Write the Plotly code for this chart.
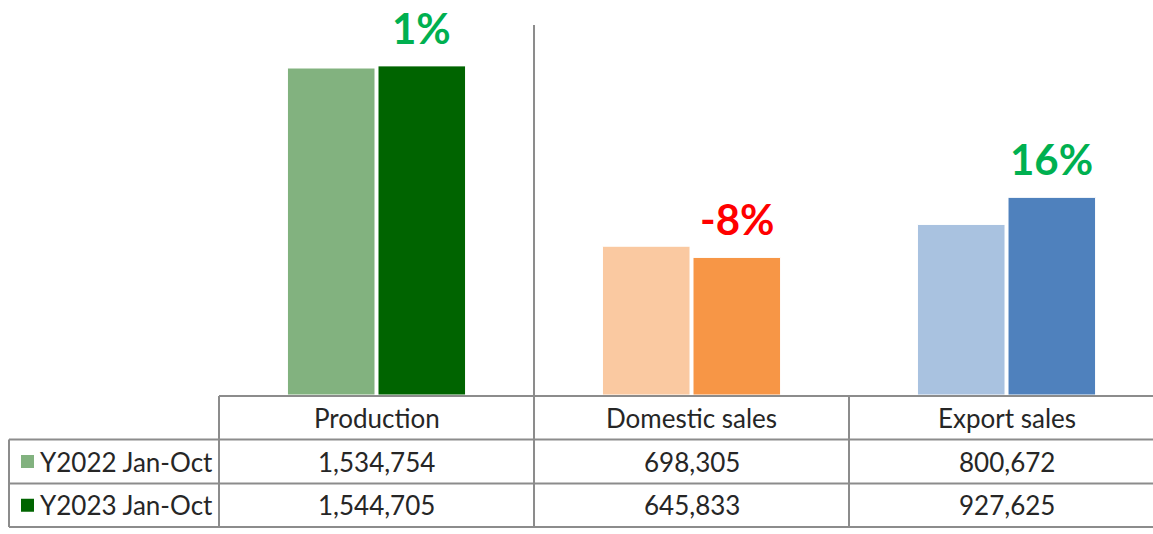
import plotly.graph_objects as go

# Data
categories = ["Production", "Domestic sales", "Export sales"]
series_names = ["Y2022 Jan-Oct", "Y2023 Jan-Oct"]
values_2022 = [1534754, 698305, 800672]
values_2023 = [1544705, 645833, 927625]
change_labels = ["1%", "-8%", "16%"]

# Styling
colors_2022 = ["#82B27F", "#FAC9A1", "#A9C2E0"]
colors_2023 = ["#006400", "#F79646", "#4F81BD"]
change_colors = ["#00B050", "#FF0000", "#00B050"]
legend_colors = ["#82B27F", "#006400"]
grid_color = "#8C8C8C"
font_family = "Lato"

W, H = 1153, 534
plot_left, plot_bottom = 219, 395  # pixel positions of the plot area
plot_w = W - plot_left
plot_h = plot_bottom
bargap = 0.425


def px_x(px):
    return (px - plot_left) / plot_w


def px_y(py):
    return (plot_bottom - py) / plot_h


xs = list(range(len(categories)))
fig = go.Figure()
fig.add_trace(go.Bar(x=xs, y=values_2022, name=series_names[0],
                     marker=dict(color=colors_2022, line=dict(color="white", width=1))))
fig.add_trace(go.Bar(x=xs, y=values_2023, name=series_names[1],
                     marker=dict(color=colors_2023, line=dict(color="white", width=1))))

# y scale: 1,534,754 reaches 327 px above the baseline
y_max = plot_h / 327 * values_2022[0]

shapes = []
line = dict(color=grid_color, width=2)
# table rows (pixel positions)
row_top, row1, row2, row3 = 396, 439.5, 483.5, 527
table_left = 9
shapes.append(dict(type="line", xref="paper", yref="paper",
                   x0=0, x1=1, y0=px_y(row_top), y1=px_y(row_top), line=line))
for ry in (row1, row2, row3):
    shapes.append(dict(type="line", xref="paper", yref="paper",
                       x0=px_x(table_left), x1=1, y0=px_y(ry), y1=px_y(ry), line=line))
# vertical table lines
shapes.append(dict(type="line", xref="paper", yref="paper",
                   x0=px_x(table_left), x1=px_x(table_left), y0=px_y(row1), y1=px_y(row3), line=line))
shapes.append(dict(type="line", xref="paper", yref="paper",
                   x0=0, x1=0, y0=px_y(row_top), y1=px_y(row3), line=line))
# separator between production and sales runs up through the plot
shapes.append(dict(type="line", xref="x", yref="paper",
                   x0=0.5, x1=0.5, y0=px_y(25), y1=px_y(row3), line=line))
shapes.append(dict(type="line", xref="x", yref="paper",
                   x0=1.5, x1=1.5, y0=px_y(row_top), y1=px_y(row3), line=line))
# legend keys
for i, (ry_a, ry_b) in enumerate([(row1, row2), (row2, row3)]):
    cy = (ry_a + ry_b) / 2
    shapes.append(dict(type="rect", xref="paper", yref="paper",
                       x0=px_x(21), x1=px_x(34), y0=px_y(cy - 6.5), y1=px_y(cy + 6.5),
                       fillcolor=legend_colors[i], line=dict(width=0)))

annotations = []
text_font = dict(family=font_family, size=26, color="#262626")
for i, cat in enumerate(categories):
    annotations.append(dict(x=i, y=px_y((row_top + row1) / 2), xref="x", yref="paper",
                            text=cat, showarrow=False, font=text_font,
                            xanchor="center", yanchor="middle"))
    annotations.append(dict(x=i, y=px_y((row1 + row2) / 2), xref="x", yref="paper",
                            text=f"{values_2022[i]:,}", showarrow=False, font=text_font,
                            xanchor="center", yanchor="middle"))
    annotations.append(dict(x=i, y=px_y((row2 + row3) / 2), xref="x", yref="paper",
                            text=f"{values_2023[i]:,}", showarrow=False, font=text_font,
                            xanchor="center", yanchor="middle"))
    # change label above the 2023 bar
    annotations.append(dict(x=i + (1 - bargap) / 4, y=values_2023[i], xref="x", yref="y",
                            text=f"<b>{change_labels[i]}</b>", showarrow=False,
                            font=dict(family=font_family, size=42, color=change_colors[i]),
                            xanchor="center", yanchor="middle", yshift=38))
for i, name in enumerate(series_names):
    cy = [(row1 + row2) / 2, (row2 + row3) / 2][i]
    annotations.append(dict(x=px_x(38), y=px_y(cy), xref="paper", yref="paper",
                            text=name, showarrow=False, font=text_font,
                            xanchor="left", yanchor="middle"))

fig.update_layout(
    width=W, height=H,
    margin=dict(l=plot_left, r=0, t=0, b=H - plot_bottom, pad=0),
    paper_bgcolor="white", plot_bgcolor="white",
    barmode="group", bargap=bargap, bargroupgap=0.033,
    showlegend=False,
    xaxis=dict(range=[-0.5, 2.465], showticklabels=False,
               showgrid=False, zeroline=False, showline=False, fixedrange=True),
    yaxis=dict(range=[0, y_max], visible=False, fixedrange=True),
    shapes=shapes, annotations=annotations,
    font=dict(family=font_family),
)

fig.write_html("out.html", config={"displayModeBar": False})
